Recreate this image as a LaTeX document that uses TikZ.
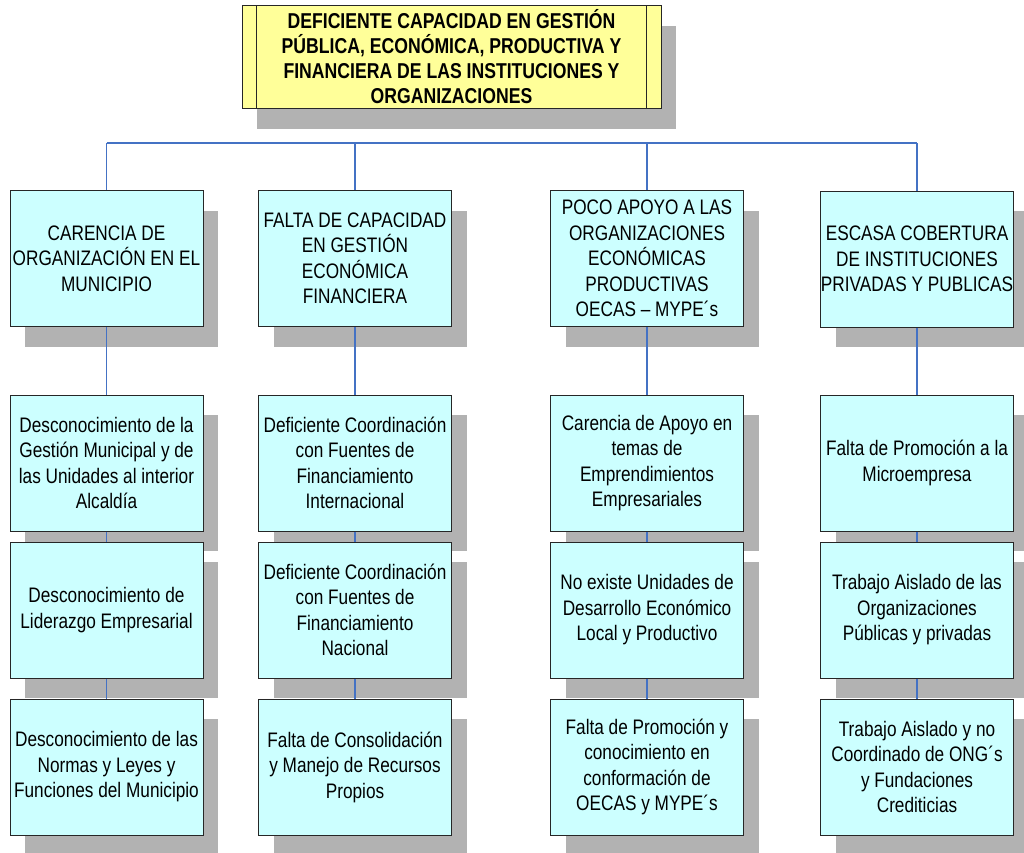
\documentclass[tikz,border=0pt]{standalone}
\usepackage{fontspec}
\setmainfont{Liberation Sans}[FakeStretch=0.82]
\usepackage{tikz}
\usetikzlibrary{shadows,calc}
\definecolor{topcol}{HTML}{FFFF99}
\definecolor{boxcol}{HTML}{CCFFFF}
\definecolor{shadowcol}{HTML}{B2B2B2}
\definecolor{linkcol}{HTML}{4472C4}
\definecolor{edgecol}{HTML}{262626}

\begin{document}
\begin{tikzpicture}[x=1pt, y=-1pt,
  font=\fontsize{21}{25.5}\selectfont,
  cause/.style={draw=edgecol, line width=1pt, fill=boxcol, align=center,
    minimum width=193pt, minimum height=136pt, inner sep=0pt,
    drop shadow={shadow xshift=15pt, shadow yshift=-20pt, fill=shadowcol, opacity=1}},
  problem/.style={cause, fill=topcol, minimum width=419pt, minimum height=103pt,
    font=\fontsize{21.5}{25}\selectfont\bfseries},
  link/.style={draw=linkcol, line width=1.1pt}]
\useasboundingbox (0,0) rectangle (1024,852);

% main problem
\node[problem] (top) at (451.5,57) {DEFICIENTE CAPACIDAD EN GESTIÓN\\PÚBLICA, ECONÓMICA, PRODUCTIVA Y\\FINANCIERA DE LAS INSTITUCIONES Y\\ORGANIZACIONES};
\draw[edgecol, line width=1pt] ([xshift=15pt]top.north west) -- ([xshift=15pt]top.south west);
\draw[edgecol, line width=1pt] ([xshift=-15pt]top.north east) -- ([xshift=-15pt]top.south east);

% first level causes
\node[cause] (org) at (106.5,258.5) {CARENCIA DE\\ORGANIZACIÓN EN EL\\MUNICIPIO};
\node[cause] (gest) at (355,258.5) {FALTA DE CAPACIDAD\\EN GESTIÓN\\ECONÓMICA\\FINANCIERA};
\node[cause] (apoyo) at (647,258.5) {POCO APOYO A LAS\\ORGANIZACIONES\\ECONÓMICAS\\PRODUCTIVAS\\OECAS – MYPE´s};
\node[cause] (cob) at (917,259) {ESCASA COBERTURA\\DE INSTITUCIONES\\PRIVADAS Y PUBLICAS};

% second level
\node[cause] (org1) at (106.5,463) {Desconocimiento de la\\Gestión Municipal y de\\las Unidades al interior\\Alcaldía};
\node[cause] (gest1) at (355,463) {Deficiente Coordinación\\con Fuentes de\\Financiamiento\\Internacional};
\node[cause] (apoyo1) at (647,463) {Carencia de Apoyo en\\temas de\\Emprendimientos\\Empresariales};
\node[cause] (cob1) at (917,463) {Falta de Promoción a la\\Microempresa};

% third level
\node[cause] (org2) at (106.5,610) {Desconocimiento de\\Liderazgo Empresarial};
\node[cause] (gest2) at (355,610) {Deficiente Coordinación\\con Fuentes de\\Financiamiento\\Nacional};
\node[cause] (apoyo2) at (647,610) {No existe Unidades de\\Desarrollo Económico\\Local y Productivo};
\node[cause] (cob2) at (917,610) {Trabajo Aislado de las\\Organizaciones\\Públicas y privadas};

% fourth level
\node[cause] (org3) at (106.5,767) {Desconocimiento de las\\Normas y Leyes y\\Funciones del Municipio};
\node[cause] (gest3) at (355,767) {Falta de Consolidación\\y Manejo de Recursos\\Propios};
\node[cause] (apoyo3) at (647,767) {Falta de Promoción y\\conocimiento en\\conformación de\\OECAS y MYPE´s};
\node[cause] (cob3) at (917,767) {Trabajo Aislado y no\\Coordinado de ONG´s\\y Fundaciones\\Crediticias};

% connectors
\coordinate (bar) at (512,143);
\draw[link] (bar -| org.north) -- (bar -| cob.north);
\foreach \c in {org,gest,apoyo,cob} {
  \draw[link] (bar -| \c.north) -- (\c.north);
  \draw[link] (\c.south) -- (\c1.north);
  \draw[link] (\c1.south) -- (\c2.north);
  \draw[link] (\c2.south) -- (\c3.north);
}
\end{tikzpicture}
\end{document}
